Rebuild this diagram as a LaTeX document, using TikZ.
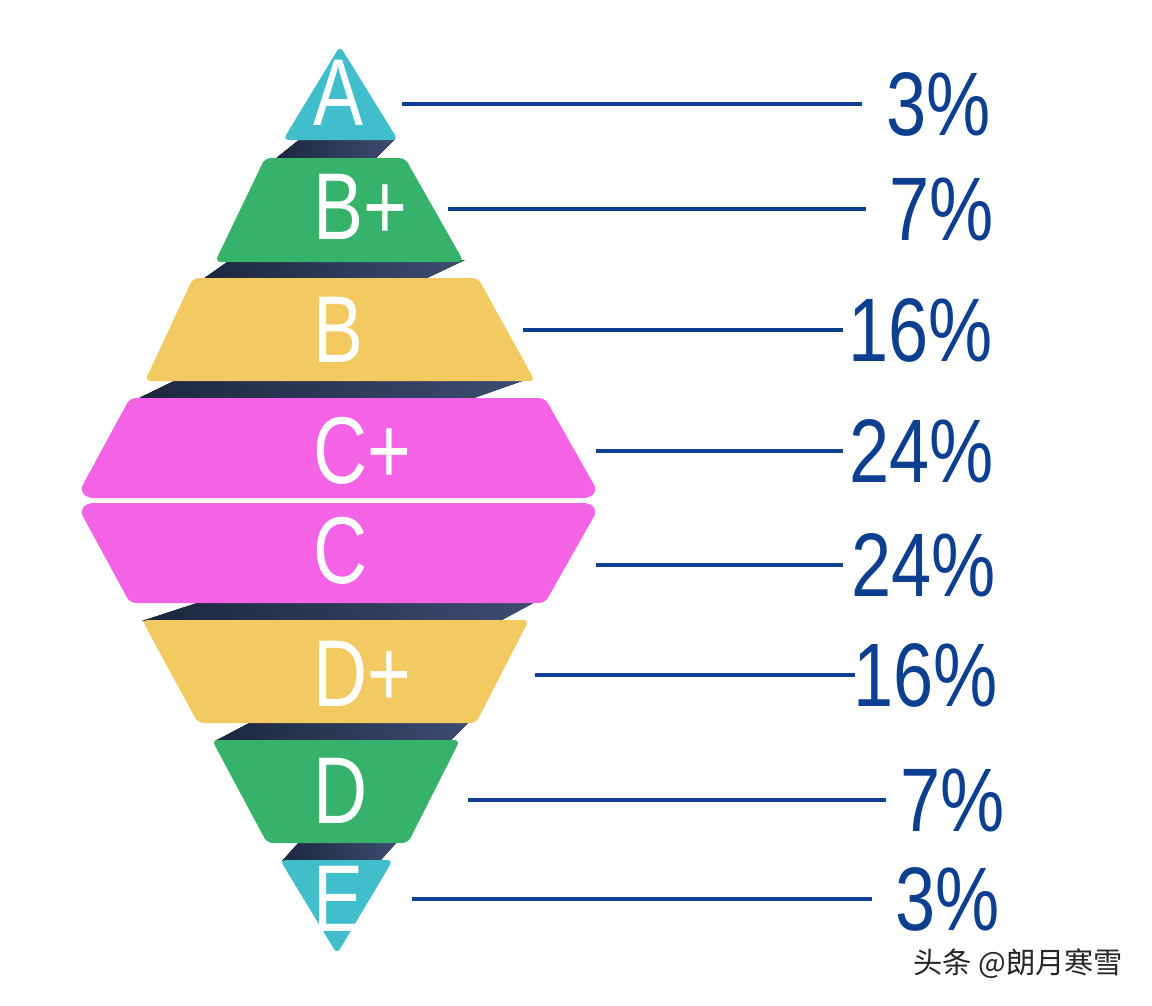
\documentclass[tikz,border=0pt]{standalone}
\usepackage{fontspec}
\setmainfont{Liberation Sans}
\newfontfamily\cjkfont{Noto Sans CJK SC}
\usetikzlibrary{positioning,calc}
\definecolor{bandcyan}{RGB}{64,190,203}
\definecolor{bandgreen}{RGB}{54,178,106}
\definecolor{bandyellow}{RGB}{243,201,98}
\definecolor{bandpink}{RGB}{244,99,230}
\definecolor{shadenavy}{RGB}{28,38,62}
\definecolor{shadelight}{RGB}{62,76,114}
\definecolor{pctblue}{RGB}{12,63,143}

\begin{document}
\begin{tikzpicture}[x=0.03cm, y=-0.03cm,
    band/.style={rounded corners=5pt},
    twist/.style={left color=shadenavy, right color=shadelight},
    grade/.style={anchor=west, inner sep=0pt, text=white, font=\fontsize{81}{81}\selectfont},
    pct/.style={anchor=west, inner sep=0pt, text=pctblue, font=\fontsize{77}{77}\selectfont},
    leader/.style={draw=pctblue, line width=3.4pt},
]
    \useasboundingbox (0,0) rectangle (1152,1005);
    % Dark twists between the bands
    \fill[twist] (275,159) -- (300,139) -- (395,139) -- (375,159) -- cycle;
    \fill[twist] (203,279) -- (230,260) -- (465,260) -- (425,279) -- cycle;
    \fill[twist] (137,399) -- (178,379) -- (528,379) -- (471,399) -- cycle;
    \fill[twist] (142,621) -- (203,601) -- (537,601) -- (500,621) -- cycle;
    \fill[twist] (215,741) -- (253,721) -- (470,721) -- (450,741) -- cycle;
    \fill[twist] (282,861) -- (300,841) -- (398,841) -- (380,861) -- cycle;
    % Bands, top to bottom
    \fill[band, bandcyan] (340,46) -- (398,140) -- (283,140) -- cycle;
    \fill[band, bandgreen] (265,158) -- (405,158) -- (464,262) -- (215,262) -- cycle;
    \fill[band, bandyellow] (193,278) -- (478,278) -- (535,381) -- (145,381) -- cycle;
    \fill[band, bandpink] (130,398) -- (545,398) -- (597,490) -- (590,498) -- (87,498) -- (80,490) -- cycle;
    \fill[band, bandpink] (87,503) -- (590,503) -- (597,511) -- (545,603) -- (130,603) -- (80,511) -- cycle;
    \fill[band, bandyellow] (142,620) -- (529,620) -- (476,723) -- (198,723) -- cycle;
    \fill[band, bandgreen] (212,740) -- (460,740) -- (408,843) -- (267,843) -- cycle;
    \fill[band, bandcyan] (280,860) -- (393,860) -- (337,954) -- cycle;
    % Grade letters
    \foreach \name/\txt/\y in {gA/A/93, gBp/B+/207, gB/B/330, gCp/C+/451, gC/C/551, gDp/D+/674, gD/D/791, gE/E/899} {
        \node[grade] (\name) at (313,\y) {\scalebox{0.79}[1]{\txt}};
    }
    % Leaders and shares
    \foreach \name/\y/\sx/\ex/\tx/\val in {A/104/402/862/886/3, Bp/209/448/866/889/7, B/330/523/843/848/16, Cp/451/596/843/849/24, C/565/596/843/851/24, Dp/675/535/855/853/16, D/800/468/886/900/7, E/899/412/872/895/3} {
        \coordinate (s\name) at (\sx,\y);
        \coordinate (e\name) at (\ex,\y);
        \node[pct] (p\name) at (\tx,\y) {\scalebox{0.8}[1]{\val\%}};
        \draw[leader] (s\name) -- (e\name);
    }
    \node[anchor=west, inner sep=0pt, text=black!85, font=\cjkfont\fontsize{25}{25}\selectfont] (mark) at (913,964) {头条 @朗月寒雪};
\end{tikzpicture}
\end{document}
